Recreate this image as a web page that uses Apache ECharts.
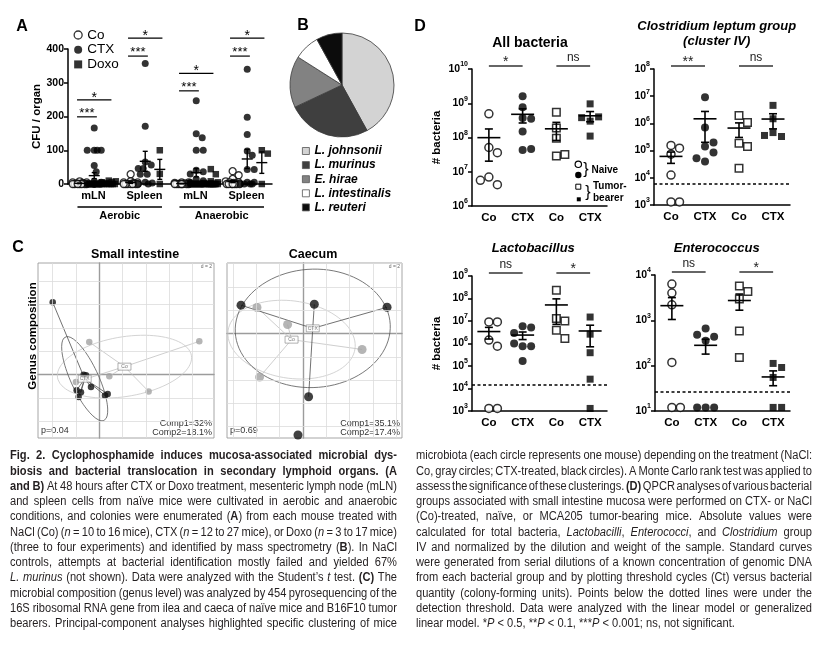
<!DOCTYPE html>
<html>
<head>
<meta charset="utf-8">
<title>Fig. 2</title>
<script src="https://cdn.jsdelivr.net/npm/echarts@6/dist/echarts.min.js"></script>
<style>
html,body{margin:0;padding:0;background:#fff;}
#chart{width:828px;height:647px;}
</style>
</head>
<body>
<div id="chart"></div>
<script>
// ======================= DATA =======================
// Panel A : CFU / organ, per mouse
const aSites = ['mLN', 'Spleen', 'mLN', 'Spleen'];
const aConditions = ['Aerobic', 'Anaerobic'];
const aGroupNames = ['Co', 'CTX', 'Doxo'];
const aCo = [
  [8, 5, 5, 3, 2, 0, 0, 0, 0, 0, 0, 0],
  [29, 8, 5, 5, 3, 0, 0, 0, 0, 0, 0, 0],
  [5, 5, 3, 2, 0, 0, 0, 0, 0, 0, 0, 0],
  [38, 26, 15, 8, 5, 5, 3, 0, 0, 0, 0, 0, 0, 0]
];
const aCTX = [
  [166, 100, 100, 100, 100, 55, 36, 8, 5, 0, 0, 0, 0, 0, 0, 0, 0, 0, 0, 0, 0, 0, 0, 0, 0, 0, 0],
  [357, 171, 65, 56, 46, 46, 29, 29, 5, 3, 0, 0],
  [247, 149, 137, 100, 100, 41, 36, 30, 15, 10, 5, 0, 0, 0, 0, 0, 0, 0, 0, 0, 0, 0, 0, 0, 0, 0],
  [340, 198, 147, 98, 85, 43, 43, 5, 5, 0, 0, 0, 0]
];
const aDoxo = [
  [10, 8, 5, 5, 3, 0, 0, 0, 0, 0, 0, 0],
  [100, 30, 0],
  [44, 29, 8, 5, 3, 0, 0, 0, 0, 0, 0, 0, 0, 0, 0, 0, 0],
  [100, 90, 0]
];
// significance brackets: site, compared group (1 = CTX, 2 = Doxo), bracket level (CFU), mark
const aSigSite  = [0, 0, 1, 1, 2, 2, 3, 3];
const aSigTo    = [1, 2, 1, 2, 1, 2, 1, 2];
const aSigLevel = [199, 249, 379, 432, 276, 328, 379, 432];
const aSigMark  = ['***', '*', '***', '*', '***', '*', '***', '*'];
const aYTicks = [0, 100, 200, 300, 400];

// Panel B : identified species (share of colonies, %)
const bSpecies = ['L. johnsonii', 'L. murinus', 'E. hirae', 'L. intestinalis', 'L. reuteri'];
const bShare = [42, 26, 16, 8, 8];
const bColors = ['#d3d3d3', '#3f3f3f', '#828282', '#ffffff', '#0c0c0c'];

// Panel C : PCA coordinates (Comp1, Comp2)
const cSmallCo  = [[-0.86, 2.80], [8.57, 2.86], [0.86, -0.14], [4.23, -1.43], [-2.00, -0.63]];
const cSmallCTX = [[-3.99, 6.20], [-1.34, 0.00], [-1.14, -0.05], [-0.71, -1.05], [-1.94, -1.34],
                   [-1.57, -1.51], [-1.77, -1.91], [0.49, -1.77], [0.72, -1.65]];
const cCaecumCo  = [[-3.94, 2.23], [-1.32, 0.77], [5.06, -1.37], [-3.72, -3.74]];
const cCaecumCTX = [[-5.31, 2.43], [0.97, 2.51], [7.20, 2.25], [0.48, -5.43]];
const cCaecumExtra = [[-0.43, -8.71]];
const cSmallRangeX = [-5.25, 9.83], cSmallRangeY = [-5.42, 9.57];
const cCaecumRangeX = [-6.51, 8.48], cCaecumRangeY = [-8.97, 6.05];
const cSmallGridX = [-4, -2, 2, 4, 6, 8], cSmallGridY = [-4, -2, 2, 4, 6, 8];
const cCaecumGridX = [-6, -4, -2, 2, 4, 6, 8], cCaecumGridY = [-8, -6, -4, -2, 2, 4, 6];
const cTitles = ['Small intestine', 'Caecum'];
const cPValues = ['p=0.04', 'p=0.69'];
const cComp1 = ['Comp1=32%', 'Comp1=35.1%'];
const cComp2 = ['Comp2=18.1%', 'Comp2=17.4%'];

// Panel D : # bacteria (QPCR)
const dTitles = ['All bacteria', 'Clostridium leptum group', 'Lactobacillus', 'Enterococcus'];
const dGroups = ['Co', 'CTX', 'Co', 'CTX'];
const allNaiveCo  = [4.9e8, 5.1e7, 3.6e7, 7.0e6, 4.2e6, 5.6e6];
const allNaiveCTX = [1.6e9, 7.7e8, 3.7e8, 3.5e8, 1.5e8, 4.3e7, 4.6e7];
const allTumorCo  = [5.5e8, 1.9e8, 9.5e7, 2.9e7, 3.2e7];
const allTumorCTX = [9.6e8, 3.0e8, 4.0e8, 3.8e8, 1.1e8];
const cloNaiveCo  = [1.55e5, 1.23e5, 7.4e4, 1.26e4, 1.3e3, 1.3e3];
const cloNaiveCTX = [9.1e6, 7.1e5, 1.41e5, 2.0e5, 8.5e4, 4.0e4, 5.2e4];
const cloTumorCo  = [1.95e6, 1.07e6, 1.87e5, 1.41e5, 2.24e4];
const cloTumorCTX = [4.6e6, 1.48e6, 4.6e5, 3.3e5, 3.6e5];
const lacNaiveCo  = [9.1e6, 9.1e6, 1.42e6, 7.6e5, 1.3e3, 1.3e3];
const lacNaiveCTX = [5.9e6, 5.1e6, 2.9e6, 7.6e5, 7.6e5, 1.0e6, 1.66e5];
const lacTumorCo  = [2.3e8, 1.3e7, 1.0e7, 3.9e6, 1.66e6];
const lacTumorCTX = [1.5e7, 2.6e6, 3.9e5, 2.6e4, 1.3e3];
const entNaiveCo  = [6.3e3, 4.0e3, 2.2e3, 118, 12, 12];
const entNaiveCTX = [660, 437, 480, 355, 12, 12, 12];
const entTumorCo  = [5.7e3, 4.3e3, 2.95e3, 580, 152];
const entTumorCTX = [112, 91, 55, 12, 12];
const dYMin = [1e6, 1e3, 1e3, 1e1];
const dYMax = [1e10, 1e8, 1e9, 1e4];
const dThreshold = [null, 6.1e3, 1.4e4, 27];
const dSigNaive = ['*', '**', 'ns', 'ns'];
const dSigTumor = ['ns', 'ns', '*', '*'];

// Caption  ({...} = bold, _..._ = italic)
const captionLeft = [
  '{Fig. 2. Cyclophosphamide induces mucosa-associated microbial dys-}',
  '{biosis and bacterial translocation in secondary lymphoid organs. (A}',
  '{and B)} At 48 hours after CTX or Doxo treatment, mesenteric lymph node (mLN)',
  'and spleen cells from naïve mice were cultivated in aerobic and anaerobic',
  'conditions, and colonies were enumerated ({A}) from each mouse treated with',
  'NaCl (Co) (_n_ = 10 to 16 mice), CTX (_n_ = 12 to 27 mice), or Doxo (_n_ = 3 to 17 mice)',
  '(three to four experiments) and identified by mass spectrometry ({B}). In NaCl',
  'controls, attempts at bacterial identification mostly failed and yielded 67%',
  '_L. murinus_ (not shown). Data were analyzed with the Student’s _t_ test. {(C)} The',
  'microbial composition (genus level) was analyzed by 454 pyrosequencing of the',
  '16S ribosomal RNA gene from ilea and caeca of naïve mice and B16F10 tumor',
  'bearers. Principal-component analyses highlighted specific clustering of mice'
];
const captionRight = [
  'microbiota (each circle represents one mouse) depending on the treatment (NaCl:',
  'Co, gray circles; CTX-treated, black circles). A Monte Carlo rank test was applied to',
  'assess the significance of these clusterings. {(D)} QPCR analyses of various bacterial',
  'groups associated with small intestine mucosa were performed on CTX- or NaCl',
  '(Co)-treated, naïve, or MCA205 tumor-bearing mice. Absolute values were',
  'calculated for total bacteria, _Lactobacilli_, _Enterococci_, and _Clostridium_ group',
  'IV and normalized by the dilution and weight of the sample. Standard curves',
  'were generated from serial dilutions of a known concentration of genomic DNA',
  'from each bacterial group and by plotting threshold cycles (Ct) versus bacterial',
  'quantity (colony-forming units). Points below the dotted lines were under the',
  'detection threshold. Data were analyzed with the linear model or generalized',
  'linear model. *_P_ < 0.5, **_P_ < 0.1, ***_P_ < 0.001; ns, not significant.'
];

// ======================= LAYOUT / STYLE =======================
const FONT = "'Liberation Sans', Arial, Helvetica, sans-serif";
const CAPFONT = "'Liberation Sans Narrow', 'Liberation Sans', Arial, sans-serif";
const CAP_SIZE = 12.5;
const CAP_COLOR = '#231f20';
const BLACK = '#000';
const GRID_A = {left: 68, top: 49, width: 204, height: 135};
const GRID_CS = {left: 38, top: 263, width: 176, height: 175};
const GRID_CC = {left: 227, top: 263, width: 175, height: 175};
const GRID_D = [
  {left: 472, top: 69, width: 135, height: 137},
  {left: 654, top: 69, width: 136, height: 136},
  {left: 472, top: 276, width: 135, height: 135},
  {left: 655, top: 275, width: 135, height: 136}
];
const A_XMIN = -0.8, A_XMAX = 13.2, A_SITE_STEP = 3.5;

const chart = echarts.init(document.getElementById('chart'));

function gridOf(g, extra) {
  return Object.assign({containLabel: false, outerBoundsMode: 'none'}, g, extra || {});
}
const axisLineBlack = {show: true, onZero: false, lineStyle: {color: BLACK, width: 1.5}};
function cAxis(gi, range) {
  return {gridIndex: gi, type: 'value', min: range[0], max: range[1],
    axisLine: {show: true, onZero: true, lineStyle: {color: '#9c9c9c', width: 1.4}},
    axisTick: {show: false}, axisLabel: {show: false}, splitLine: {show: false}};
}
const boldLbl = (size) => ({fontFamily: FONT, fontSize: size, fontWeight: 'bold', color: BLACK});

const grids = [
  gridOf(GRID_A),
  gridOf(GRID_CS, {show: true, borderColor: '#8f8f8f', borderWidth: 0.8, backgroundColor: 'transparent'}),
  gridOf(GRID_CC, {show: true, borderColor: '#8f8f8f', borderWidth: 0.8, backgroundColor: 'transparent'})
].concat(GRID_D.map(g => gridOf(g)));

const xAxes = [
  {gridIndex: 0, type: 'value', min: A_XMIN, max: A_XMAX, position: 'bottom', axisLine: axisLineBlack,
   axisTick: {show: false}, axisLabel: {show: false}, splitLine: {show: false}},
  {gridIndex: 0, type: 'category', position: 'bottom', data: aSites, axisLine: {show: false},
   axisTick: {show: false}, splitLine: {show: false}, axisLabel: Object.assign(boldLbl(11), {margin: 6})},
  cAxis(1, cSmallRangeX), cAxis(2, cCaecumRangeX)
].concat([0, 1, 2, 3].map(p => ({
  gridIndex: 3 + p, type: 'value', min: -0.5, max: 3.5, interval: 0.5, axisLine: axisLineBlack,
  axisTick: {show: false}, splitLine: {show: false},
  axisLabel: Object.assign(boldLbl(11.5), {margin: 6, showMinLabel: true, showMaxLabel: true,
    formatter: v => { const r = Math.round(v); return (Math.abs(v - r) < 1e-6 && r >= 0 && r < 4) ? dGroups[r] : ''; }})
})));

const yAxes = [
  {gridIndex: 0, type: 'value', min: aYTicks[0], max: aYTicks[aYTicks.length - 1], interval: 100,
   axisLine: axisLineBlack, axisTick: {show: true, length: 4, lineStyle: {color: BLACK, width: 1.5}},
   axisLabel: Object.assign(boldLbl(10.5), {margin: 4}), splitLine: {show: false},
   name: 'CFU / organ', nameLocation: 'middle', nameGap: 25, nameTextStyle: boldLbl(11.5)},
  cAxis(1, cSmallRangeY), cAxis(2, cCaecumRangeY)
].concat([0, 1, 2, 3].map(p => ({
  gridIndex: 3 + p, type: 'log', logBase: 10, min: dYMin[p], max: dYMax[p], interval: 1, splitNumber: 8,
  axisLine: axisLineBlack, axisTick: {show: true, length: 4, lineStyle: {color: BLACK, width: 1.5}},
  minorTick: {show: false}, splitLine: {show: false},
  axisLabel: {margin: 4, formatter: v => '{b|10}{s|' + Math.round(Math.log10(v)) + '}',
    rich: {b: {fontFamily: FONT, fontSize: 10.5, fontWeight: 'bold', color: BLACK, lineHeight: 16, verticalAlign: 'middle'},
           s: {fontFamily: FONT, fontSize: 7, fontWeight: 'bold', color: BLACK, lineHeight: 8, verticalAlign: 'top'}}},
  name: (p % 2 === 0) ? '# bacteria' : '', nameLocation: 'middle', nameGap: 29, nameTextStyle: boldLbl(11.5)
})));

chart.setOption({
  animation: false, backgroundColor: '#fff', textStyle: {fontFamily: FONT},
  grid: grids, xAxis: xAxes, yAxis: yAxes, series: []
});

// ======================= helpers =======================
function toPx(xi, yi, pt) { return chart.convertToPixel({xAxisIndex: xi, yAxisIndex: yi}, pt); }
function meanSem(arr) {
  const n = arr.length, m = arr.reduce((a, b) => a + b, 0) / n;
  const sd = Math.sqrt(arr.reduce((a, b) => a + (b - m) * (b - m), 0) / (n - 1));
  const se = sd / Math.sqrt(n);
  return [m, m - se, m + se];
}
// beeswarm-like horizontal dodge (pixel offsets)
function dodge(values, pyOf, maxOff, minDist, step) {
  const cands = [0];
  for (let o = step; o <= maxOff + 1e-9; o += step) { cands.push(o); cands.push(-o); }
  const placed = [], offs = [];
  values.forEach(v => {
    const py = pyOf(v);
    let best = 0, bestD = -1;
    for (const o of cands) {
      let md = Infinity;
      for (const p of placed) { const d = Math.hypot(p[0] - o, p[1] - py); if (d < md) md = d; }
      if (md >= minDist) { best = o; break; }
      if (md > bestD + 1e-6) { bestD = md; best = o; }
    }
    placed.push([best, py]); offs.push(best);
  });
  return offs;
}
function meanSemSeries(xi, yi, items, halfW, capW, lw) {
  return {
    type: 'custom', xAxisIndex: xi, yAxisIndex: yi, data: items, silent: true, clip: false, z: 6,
    encode: {x: 0, y: [1, 2, 3]},
    renderItem: (params, api) => {
      const x = api.value(0);
      const c = api.coord([x, api.value(1)]);
      const lo = api.coord([x, api.value(2)]);
      const hi = api.coord([x, api.value(3)]);
      const st = {stroke: BLACK, lineWidth: lw};
      const ln = (x1, y1, x2, y2) => ({type: 'line', shape: {x1, y1, x2, y2}, style: st});
      return {type: 'group', children: [
        ln(c[0] - halfW, c[1], c[0] + halfW, c[1]),
        ln(c[0], lo[1], c[0], hi[1]),
        ln(c[0] - capW, lo[1], c[0] + capW, lo[1]),
        ln(c[0] - capW, hi[1], c[0] + capW, hi[1])
      ]};
    }
  };
}
function classStats(pts, k) {
  const n = pts.length;
  const mx = pts.reduce((a, p) => a + p[0], 0) / n, my = pts.reduce((a, p) => a + p[1], 0) / n;
  let sxx = 0, syy = 0, sxy = 0;
  pts.forEach(p => { const dx = p[0] - mx, dy = p[1] - my; sxx += dx * dx; syy += dy * dy; sxy += dx * dy; });
  sxx /= n; syy /= n; sxy /= n;
  const tr = sxx + syy, det = sxx * syy - sxy * sxy;
  const disc = Math.sqrt(Math.max(0, tr * tr / 4 - det));
  const a = k * Math.sqrt(tr / 2 + disc), b = k * Math.sqrt(Math.max(0, tr / 2 - disc));
  const th = 0.5 * Math.atan2(2 * sxy, sxx - syy);
  const ell = [];
  for (let i = 0; i <= 90; i++) {
    const t = i / 90 * 2 * Math.PI;
    ell.push([mx + a * Math.cos(t) * Math.cos(th) - b * Math.sin(t) * Math.sin(th),
              my + a * Math.cos(t) * Math.sin(th) + b * Math.sin(t) * Math.cos(th)]);
  }
  return {mx, my, ellipse: ell};
}

const series = [];
const graphic = [];
const txt = (x, y, text, font, opts) => Object.assign({type: 'text', x, y, silent: true,
  style: Object.assign({text, font, fill: BLACK, align: 'center', verticalAlign: 'middle'}, (opts && opts.style) || {})},
  opts && opts.el ? opts.el : {});
const line = (x1, y1, x2, y2, color, w) => ({type: 'line', silent: true, shape: {x1, y1, x2, y2}, style: {stroke: color, lineWidth: w}});

// ======================= PANEL A =======================
const aPxPerUnit = GRID_A.width / (A_XMAX - A_XMIN);
const aStyles = [
  {symbol: 'circle', symbolSize: 7, itemStyle: {color: '#fff', borderColor: BLACK, borderWidth: 1.3}},
  {symbol: 'circle', symbolSize: 7, itemStyle: {color: BLACK}},
  {symbol: 'rect', symbolSize: 6.5, itemStyle: {color: BLACK}}
];
const aMeans = [];
[aCo, aCTX, aDoxo].forEach((grp, s) => {
  const data = [];
  grp.forEach((vals, site) => {
    const xc = site * A_SITE_STEP + s;
    const offs = dodge(vals, v => toPx(0, 0, [0, v])[1], 7, 6.5, 1);
    vals.forEach((v, i) => data.push([xc + offs[i] / aPxPerUnit, v]));
    const ms = meanSem(vals);
    aMeans.push([xc, ms[0], ms[1], ms[2]]);
  });
  series.push(Object.assign({type: 'scatter', name: aGroupNames[s], xAxisIndex: 0, yAxisIndex: 0,
    data, z: 3 + s, silent: true, clip: false}, aStyles[s]));
});
series.push(meanSemSeries(0, 0, aMeans, 5.5, 2.5, 1.4));

aSigSite.forEach((site, i) => {
  const x1 = toPx(0, 0, [site * A_SITE_STEP - 0.18, aSigLevel[i]]);
  const x2 = toPx(0, 0, [site * A_SITE_STEP + aSigTo[i] + 0.18, aSigLevel[i]]);
  graphic.push(line(x1[0], x1[1], x2[0], x2[1], BLACK, 1.2));
  const star3 = aSigMark[i].length > 1;
  graphic.push(txt((x1[0] + x2[0]) / 2, x1[1] - (star3 ? 3.5 : 2), aSigMark[i], (star3 ? '13px ' : '14px ') + FONT));
});
// condition labels under the axis
aConditions.forEach((c, k) => {
  const l = toPx(0, 0, [2 * k * A_SITE_STEP - 0.15, 0]);
  const r = toPx(0, 0, [(2 * k + 1) * A_SITE_STEP + 2 + 0.15, 0]);
  graphic.push(line(l[0], l[1] + 23, r[0], r[1] + 23, BLACK, 1.5));
  graphic.push(txt((l[0] + r[0]) / 2, l[1] + 32, c, 'bold 11px ' + FONT));
});

// ======================= PANEL B =======================
series.push({
  type: 'pie', center: [342, 85], radius: 52, startAngle: 90, clockwise: true, silent: true,
  label: {show: false}, labelLine: {show: false},
  itemStyle: {borderColor: '#3a3a3a', borderWidth: 0.8},
  data: bSpecies.map((n, i) => ({name: n, value: bShare[i], itemStyle: {color: bColors[i]}}))
});

// ======================= PANEL C =======================
function cSeries(xi, yi, coPts, ctxPts, extra, gx, gy, size) {
  const co = classStats(coPts, 1.5), ctx = classStats(ctxPts, 1.5);
  const out = [];
  out.push({type: 'scatter', xAxisIndex: xi, yAxisIndex: yi, data: [], silent: true, z: 1,
    markLine: {silent: true, symbol: ['none', 'none'], label: {show: false}, animation: false,
      lineStyle: {color: '#dcdcdc', width: 0.8, type: 'solid'},
      data: gx.map(v => ({xAxis: v})).concat(gy.map(v => ({yAxis: v})))}});
  [[co, '#c8c8c8'], [ctx, '#555555']].forEach(([st, col]) => out.push({type: 'line', xAxisIndex: xi, yAxisIndex: yi,
    data: st.ellipse, symbol: 'none', showSymbol: false, silent: true, z: 2, lineStyle: {color: col, width: 0.8}}));
  [[coPts, co, '#c2c2c2'], [ctxPts, ctx, '#4d4d4d']].forEach(([pts, st, col]) => out.push({type: 'lines',
    coordinateSystem: 'cartesian2d', xAxisIndex: xi, yAxisIndex: yi, silent: true, z: 3,
    data: pts.map(p => ({coords: [p, [st.mx, st.my]]})), lineStyle: {color: col, width: 0.8, opacity: 1}}));
  out.push({type: 'scatter', xAxisIndex: xi, yAxisIndex: yi, data: coPts, symbolSize: size, silent: true, z: 4,
    itemStyle: {color: '#a2a2a2'}});
  out.push({type: 'scatter', xAxisIndex: xi, yAxisIndex: yi, data: ctxPts.concat(extra), symbolSize: size, silent: true, z: 4,
    clip: false, itemStyle: {color: '#111'}});
  out.push({type: 'scatter', xAxisIndex: xi, yAxisIndex: yi, silent: true, z: 5, symbol: 'rect', symbolSize: [13, 7],
    data: [{value: [co.mx, co.my], name: 'Co'}, {value: [ctx.mx, ctx.my], name: 'CTX'}],
    itemStyle: {color: '#fff', borderColor: '#7a7a7a', borderWidth: 0.7},
    label: {show: true, position: 'inside', formatter: '{b}', fontSize: 5, color: '#555'}});
  return out;
}
series.push(...cSeries(2, 1, cSmallCo, cSmallCTX, [], cSmallGridX, cSmallGridY, 6.5));
series.push(...cSeries(3, 2, cCaecumCo, cCaecumCTX, cCaecumExtra, cCaecumGridX, cCaecumGridY, 9));

[GRID_CS, GRID_CC].forEach((g, k) => {
  const right = g.left + g.width - 2, bottom = g.top + g.height;
  graphic.push(txt(k === 0 ? 135 : 313, 255, cTitles[k], 'bold 12.5px ' + FONT));
  graphic.push(txt(g.left + 3, bottom - 7, cPValues[k], '9px ' + FONT, {style: {align: 'left', fill: '#333'}}));
  graphic.push(txt(right, bottom - 14, cComp1[k], '9px ' + FONT, {style: {align: 'right', fill: '#333'}}));
  graphic.push(txt(right, bottom - 5.5, cComp2[k], '9px ' + FONT, {style: {align: 'right', fill: '#333'}}));
  graphic.push(txt(right, g.top + 4, 'd = 2', '5px ' + FONT, {style: {align: 'right', fill: '#666'}}));
});
graphic.push(txt(33, 336, 'Genus composition', 'bold 11.5px ' + FONT, {el: {rotation: Math.PI / 2}}));

// ======================= PANEL D =======================
const dSets = [
  [allNaiveCo, allNaiveCTX, allTumorCo, allTumorCTX],
  [cloNaiveCo, cloNaiveCTX, cloTumorCo, cloTumorCTX],
  [lacNaiveCo, lacNaiveCTX, lacTumorCo, lacTumorCTX],
  [entNaiveCo, entNaiveCTX, entTumorCo, entTumorCTX]
];
const dStyles = [
  {name: 'Naive Co', symbol: 'circle', symbolSize: 8, itemStyle: {color: '#fff', borderColor: BLACK, borderWidth: 1.5}},
  {name: 'Naive CTX', symbol: 'circle', symbolSize: 8, itemStyle: {color: BLACK}},
  {name: 'Tumor Co', symbol: 'rect', symbolSize: 7.5, itemStyle: {color: '#fff', borderColor: BLACK, borderWidth: 1.5}},
  {name: 'Tumor CTX', symbol: 'rect', symbolSize: 7, itemStyle: {color: BLACK}}
];
dSets.forEach((sets, p) => {
  const xi = 4 + p, yi = 3 + p;
  const pxPerUnit = GRID_D[p].width / 4;
  const means = [];
  sets.forEach((vals, gidx) => {
    const offs = dodge(vals, v => toPx(xi, yi, [0, v])[1], 16, 8.5, 8.5);
    const s = Object.assign({type: 'scatter', xAxisIndex: xi, yAxisIndex: yi, silent: true, z: 3, clip: false,
      data: vals.map((v, i) => [gidx + offs[i] / pxPerUnit, v])}, dStyles[gidx]);
    if (gidx === 3 && dThreshold[p] != null) {
      s.markLine = {silent: true, symbol: ['none', 'none'], label: {show: false}, animation: false,
        lineStyle: {color: BLACK, width: 1.5, type: [3, 2.5]}, data: [{yAxis: dThreshold[p]}]};
    }
    series.push(s);
    const ms = meanSem(vals);
    means.push([gidx, ms[0], Math.max(ms[1], dYMin[p]), ms[2]]);
  });
  series.push(meanSemSeries(xi, yi, means, 11.5, 4, 1.6));
  // significance bars
  [[0, 1, dSigNaive[p]], [2, 3, dSigTumor[p]]].forEach(([g1, g2, mark]) => {
    const a = toPx(xi, yi, [g1, dYMax[p]]), b = toPx(xi, yi, [g2, dYMax[p]]);
    const y = a[1] - 3;
    graphic.push(line(a[0], y, b[0], y, '#333', 1.5));
    if (mark === 'ns') graphic.push(txt((a[0] + b[0]) / 2, y - 8.5, 'ns', '12px ' + FONT, {style: {fill: '#222'}}));
    else graphic.push(txt((a[0] + b[0]) / 2, y - 4, mark, '14px ' + FONT, {style: {fill: '#222'}}));
  });
});
graphic.push(txt(530, 42.7, dTitles[0], 'bold 14px ' + FONT));
graphic.push(txt(716.7, 26.7, dTitles[1], 'italic bold 13px ' + FONT));
graphic.push(txt(716.7, 41.7, '(cluster IV)', 'italic bold 13px ' + FONT));
graphic.push(txt(533.3, 248.3, dTitles[2], 'italic bold 13px ' + FONT));
graphic.push(txt(716.7, 248.3, dTitles[3], 'italic bold 13px ' + FONT));
// naive / tumor-bearer key
graphic.push({type: 'circle', silent: true, shape: {cx: 578.3, cy: 164.3, r: 3.2}, style: {fill: '#fff', stroke: BLACK, lineWidth: 1.2}});
graphic.push({type: 'circle', silent: true, shape: {cx: 578.3, cy: 175, r: 3.2}, style: {fill: BLACK}});
graphic.push({type: 'rect', silent: true, shape: {x: 575.8, y: 184.2, width: 5, height: 5}, style: {fill: '#fff', stroke: BLACK, lineWidth: 1}});
graphic.push({type: 'rect', silent: true, shape: {x: 576.8, y: 197.3, width: 4, height: 4}, style: {fill: BLACK}});
graphic.push(txt(586, 169.5, '}', '16px ' + FONT));
graphic.push(txt(588, 192.5, '}', '16px ' + FONT));
graphic.push(txt(591.5, 170, 'Naive', 'bold 10px ' + FONT, {style: {align: 'left'}}));
graphic.push(txt(593, 186.5, 'Tumor-', 'bold 10px ' + FONT, {style: {align: 'left'}}));
graphic.push(txt(593, 198.5, 'bearer', 'bold 10px ' + FONT, {style: {align: 'left'}}));

// panel letters
[['A', 22, 27], ['B', 303, 26], ['C', 18, 248], ['D', 420, 27]].forEach(([t, x, y]) =>
  graphic.push(txt(x, y, t, 'bold 16px ' + FONT)));

// ======================= CAPTION =======================
const mctx = document.createElement('canvas').getContext('2d');
const capFont = (pc) => (pc.i ? 'italic ' : '') + (pc.b ? 'bold ' : '') + CAP_SIZE + 'px ' + CAPFONT;
function measure(t, f) { mctx.font = f; return mctx.measureText(t).width; }
function parseLine(s) {
  const words = []; let cur = [], piece = '', b = false, i = false;
  const flush = () => { if (piece) { cur.push({t: piece, b, i}); piece = ''; } };
  for (const ch of s) {
    if (ch === '{') { flush(); b = true; }
    else if (ch === '}') { flush(); b = false; }
    else if (ch === '_') { flush(); i = !i; }
    else if (ch === ' ') { flush(); if (cur.length) { words.push(cur); cur = []; } }
    else piece += ch;
  }
  flush(); if (cur.length) words.push(cur);
  words.forEach(w => { w.forEach(pc => { pc.w = measure(pc.t, capFont(pc)); }); w.width = w.reduce((a, pc) => a + pc.w, 0); });
  return words;
}
const spaceW = measure(' ', capFont({}));
const cols = [
  {lines: captionLeft.map(parseLine), x0: 10, x1: 397, y0: 456, lastJust: true},
  {lines: captionRight.map(parseLine), x0: 416, x1: 812, y0: 456, lastJust: false}
];
let kScale = 1;
cols.forEach(c => c.lines.forEach((ws, li) => {
  const just = li < c.lines.length - 1 || c.lastJust;
  if (!just) return;
  const sum = ws.reduce((a, w) => a + w.width, 0);
  kScale = Math.min(kScale, (c.x1 - c.x0) / (sum + (ws.length - 1) * 0.5 * spaceW));
}));
const LH = 15.25;
cols.forEach(c => c.lines.forEach((ws, li) => {
  const just = li < c.lines.length - 1 || c.lastJust;
  const sum = ws.reduce((a, w) => a + w.width, 0) * kScale;
  const gap = just ? ((c.x1 - c.x0) - sum) / Math.max(1, ws.length - 1) : spaceW * kScale;
  let x = c.x0; const y = c.y0 + li * LH;
  ws.forEach(w => {
    w.forEach(pc => {
      graphic.push({type: 'text', x, y, scaleX: kScale, silent: true,
        style: {text: pc.t, font: capFont(pc), fill: CAP_COLOR, align: 'left', verticalAlign: 'middle'}});
      x += pc.w * kScale;
    });
    x += gap;
  });
}));

// ======================= LEGENDS & FINAL =======================
chart.setOption({
  legend: [
    {data: aGroupNames, orient: 'vertical', left: 73.5, top: 28, padding: 0, itemWidth: 8, itemHeight: 8, itemGap: 0.7,
     selectedMode: false, itemStyle: {borderWidth: 1.3},
     textStyle: {fontFamily: FONT, fontSize: 13.5, color: BLACK, lineHeight: 13}},
    {data: bSpecies, orient: 'vertical', left: 302, top: 145, padding: 0, itemWidth: 7, itemHeight: 7, itemGap: 2.1,
     icon: 'rect', selectedMode: false, itemStyle: {borderWidth: 0.8, borderColor: '#555'},
     textStyle: {fontFamily: FONT, fontSize: 12, fontWeight: 'bold', fontStyle: 'italic', color: BLACK}}
  ],
  series: series,
  graphic: {elements: graphic}
});
</script>
</body>
</html>
